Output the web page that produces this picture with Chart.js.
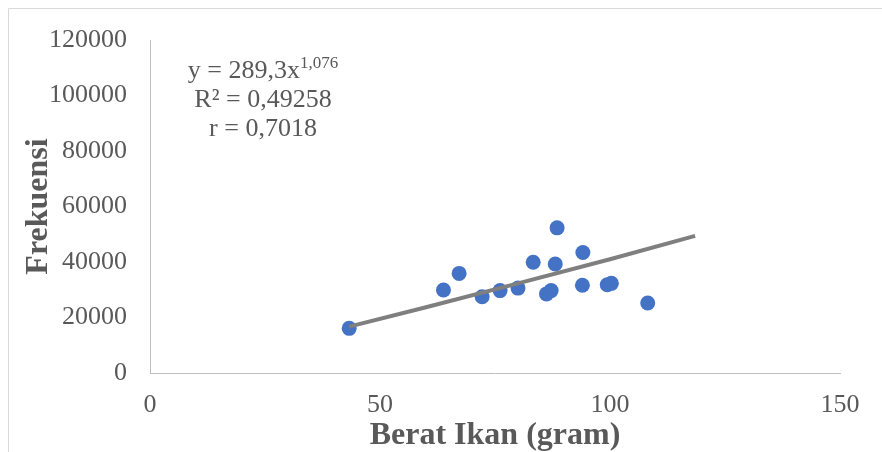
<!DOCTYPE html>
<html lang="id">
<head>
<meta charset="UTF-8">
<title>Berat Ikan vs Frekuensi</title>
<script src="https://cdn.jsdelivr.net/npm/chart.js"></script>
<style>
  html, body { margin: 0; padding: 0; background: #fff; }
  #wrap { width: 882px; height: 452px; position: relative; }
</style>
</head>
<body>
<div id="wrap"><canvas id="c" width="882" height="452"></canvas></div>
<script>
// berat ikan (gram) dan frekuensi tiap sampel
const berat = [43.3, 63.8, 67.2, 72.2, 76.1, 80.0, 83.3, 86.2, 87.2, 88.5, 88.1, 94.1, 94.0, 99.4, 100.3, 108.2];
const frekuensi = [16100, 29900, 35900, 27500, 29700, 30600, 39900, 28500, 29700, 52300, 39300, 43400, 31600, 31800, 32300, 25200];

// garis tren (power)
const trenX = [43.3, 60, 80, 100, 118.5];
const trenY = [16700, 23700, 32300, 41000, 49400];

const xTicks = [0, 50, 100, 150];
const yTicks = [0, 20000, 40000, 60000, 80000, 100000, 120000];

const persamaan = ['y = 289,3x', '1,076'];
const rKuadrat = 'R² = 0,49258';
const rNilai = 'r = 0,7018';

const grey = '#595959';
const serif = "'Liberation Serif', 'Times New Roman', serif";

const pts = berat.map((x, i) => ({ x: x, y: frekuensi[i] }));
const tren = trenX.map((x, i) => ({ x: x, y: trenY[i] }));

// bingkai area grafik + teks persamaan
const extras = {
  id: 'extras',
  beforeDraw(chart) {
    const ctx = chart.ctx;
    ctx.save();
    ctx.strokeStyle = '#d9d9d9';
    ctx.lineWidth = 1;
    ctx.beginPath();
    ctx.moveTo(8.5, 452);
    ctx.lineTo(8.5, 8.5);
    ctx.lineTo(882, 8.5);
    ctx.stroke();
    ctx.restore();
  },
  afterDraw(chart) {
    const ctx = chart.ctx;
    const cx = 263;
    ctx.save();
    ctx.fillStyle = grey;
    ctx.textBaseline = 'middle';
    ctx.font = '26px ' + serif;
    const w1 = ctx.measureText(persamaan[0]).width;
    ctx.font = '17px ' + serif;
    const w2 = ctx.measureText(persamaan[1]).width;
    let x0 = cx - (w1 + w2) / 2;
    ctx.textAlign = 'left';
    ctx.font = '26px ' + serif;
    ctx.fillText(persamaan[0], x0, 71);
    ctx.font = '17px ' + serif;
    ctx.fillText(persamaan[1], x0 + w1, 64);
    ctx.textAlign = 'center';
    ctx.font = '26px ' + serif;
    ctx.fillText(rKuadrat, cx, 100);
    ctx.fillText(rNilai, cx, 129);
    ctx.restore();
  }
};

new Chart(document.getElementById('c'), {
  type: 'scatter',
  data: {
    datasets: [
      {
        label: 'Frekuensi',
        data: pts,
        backgroundColor: '#4472C4',
        borderColor: '#4472C4',
        pointRadius: 7.5,
        pointBorderWidth: 0,
        order: 2
      },
      {
        type: 'line',
        label: 'Tren',
        data: tren,
        borderColor: '#7f7f7f',
        borderWidth: 4,
        pointRadius: 0,
        tension: 0,
        fill: false,
        order: 1
      }
    ]
  },
  options: {
    responsive: false,
    animation: false,
    devicePixelRatio: 1,
    layout: { padding: { left: 0, top: 40, right: 42, bottom: 0 } },
    plugins: { legend: { display: false }, tooltip: { enabled: false } },
    scales: {
      x: {
        type: 'linear',
        min: 0, max: 150,
        afterBuildTicks: s => { s.ticks = xTicks.map(v => ({ value: v })); },
        afterFit: s => { s.height = 79; },
        grid: { display: false },
        border: { display: true, color: '#bfbfbf', width: 1 },
        ticks: { color: grey, font: { family: serif, size: 26 }, padding: 9, maxRotation: 0 },
        title: { display: true, text: 'Berat Ikan (gram)', color: grey, font: { family: serif, size: 32, weight: 'bold', lineHeight: 1 }, padding: { top: 0, bottom: 0 } }
      },
      y: {
        min: 0, max: 120000,
        afterBuildTicks: s => { s.ticks = yTicks.map(v => ({ value: v })); },
        afterFit: s => { s.width = 150; },
        grid: { display: false },
        border: { display: true, color: '#bfbfbf', width: 1 },
        ticks: { color: grey, font: { family: serif, size: 26 }, padding: 15, callback: v => String(v) },
        title: { display: true, text: 'Frekuensi', color: grey, font: { family: serif, size: 32, weight: 'bold', lineHeight: 1 }, padding: { top: 23, bottom: 0 } }
      }
    }
  },
  plugins: [extras]
});
</script>
</body>
</html>
